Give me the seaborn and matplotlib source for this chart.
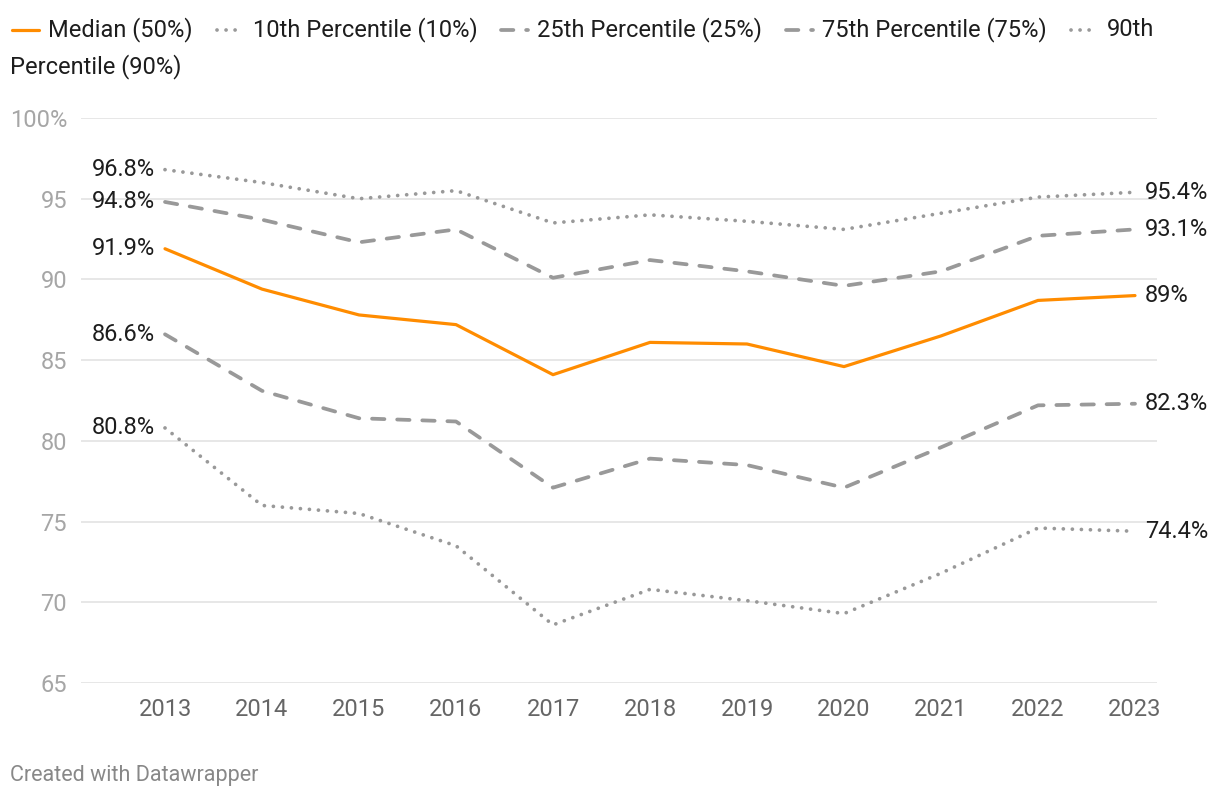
import matplotlib
matplotlib.use("Agg")
import matplotlib.pyplot as plt
from matplotlib.lines import Line2D
import seaborn as sns
import pandas as pd

years = [2013, 2014, 2015, 2016, 2017, 2018, 2019, 2020, 2021, 2022, 2023]
median = [91.9, 89.4, 87.8, 87.2, 84.1, 86.1, 86.0, 84.6, 86.5, 88.7, 89.0]
p10 = [80.8, 76.0, 75.5, 73.5, 68.6, 70.8, 70.1, 69.3, 71.8, 74.6, 74.4]
p25 = [86.6, 83.1, 81.4, 81.2, 77.1, 78.9, 78.5, 77.1, 79.6, 82.2, 82.3]
p75 = [94.8, 93.7, 92.3, 93.1, 90.1, 91.2, 90.5, 89.6, 90.5, 92.7, 93.1]
p90 = [96.8, 96.0, 95.0, 95.5, 93.5, 94.0, 93.6, 93.1, 94.1, 95.1, 95.4]
series_names = ["Median (50%)", "10th Percentile (10%)", "25th Percentile (25%)",
                "75th Percentile (75%)", "90th Percentile (90%)"]
series_values = [median, p10, p25, p75, p90]
start_labels = ["91.9%", "80.8%", "86.6%", "94.8%", "96.8%"]
end_labels = ["89%", "74.4%", "82.3%", "93.1%", "95.4%"]
y_ticks = [65, 70, 75, 80, 85, 90, 95, 100]
y_ticklabels = ["65", "70", "75", "80", "85", "90", "95", "100%"]

ORANGE = "#ff8c00"
GREY = "#999999"
colors = [ORANGE, GREY, GREY, GREY, GREY]
DOT = (0.01, 2.4)
DASH = (3.3, 3.4)
dash_map = {
    "Median (50%)": "",
    "10th Percentile (10%)": DOT,
    "25th Percentile (25%)": DASH,
    "75th Percentile (75%)": DASH,
    "90th Percentile (90%)": DOT,
}

rows = []
for name, vals in zip(series_names, series_values):
    for y, v in zip(years, vals):
        rows.append({"year": y, "value": v, "series": name})
df = pd.DataFrame(rows)

sns.set_theme(style="white")
plt.rcParams["font.family"] = ["Roboto", "DejaVu Sans"]
plt.rcParams["lines.dash_capstyle"] = "round"
plt.rcParams["lines.solid_capstyle"] = "round"

FS = 17
LW = 2.7
W, H = 1220, 800
fig = plt.figure(figsize=(12.2, 8), dpi=100)
ax = fig.add_axes([81 / W, 1 - 683 / H, (1157 - 81) / W, (683 - 118) / H])

sns.lineplot(data=df, x="year", y="value", hue="series", style="series",
             palette=dict(zip(series_names, colors)), dashes=dash_map,
             hue_order=series_names, style_order=series_names,
             linewidth=LW, legend=False, ax=ax)
for ln in ax.get_lines():
    if ln.get_color() == ORANGE:
        ln.set_linewidth(2.3)

x0 = 2013 - (165 - 81) / 97.0
x1 = 2023 + (1157 - 1135) / 97.0
ax.set_xlim(x0, x1)
ax.set_ylim(65, 100)
ax.set_yticks(y_ticks)
ax.set_yticklabels(y_ticklabels)
ax.set_xticks(years)
ax.set_xticklabels([str(y) for y in years])
ax.tick_params(axis="y", length=0, pad=10, labelsize=FS, labelcolor="#a6a6a6")
ax.tick_params(axis="x", length=0, pad=11, labelsize=FS, labelcolor="#666666")
ax.grid(axis="y", color="#e3e3e3", linewidth=1.2)
ax.grid(axis="x", visible=False)
for s in ax.spines.values():
    s.set_visible(False)
ax.set_xlabel("")
ax.set_ylabel("")

# value labels at start and end
for vals, sl, el in zip(series_values, start_labels, end_labels):
    ax.annotate(sl, (years[0], vals[0]), xytext=(-7, 0), textcoords="offset points",
                ha="right", va="center", fontsize=FS, color="#1d1d1d")
    ax.annotate(el, (years[-1], vals[-1]), xytext=(7, 0), textcoords="offset points",
                ha="left", va="center", fontsize=FS, color="#1d1d1d")

# custom legend (wrapping like the reference)
fig.canvas.draw()
renderer = fig.canvas.get_renderer()
legend_specs = [
    ("Median (50%)", ORANGE, "-", 2.3),
    ("10th Percentile (10%)", GREY, (0, DOT), LW),
    ("25th Percentile (25%)", GREY, (0, DASH), LW),
    ("75th Percentile (75%)", GREY, (0, DASH), LW),
    ("90th", GREY, (0, DOT), LW),
]
x = 10
y_line = 30
for label, col, ls, lw in legend_specs:
    ln = Line2D([(x + 2) / W, (x + 29) / W], [1 - y_line / H, 1 - y_line / H],
                transform=fig.transFigure, color=col, linestyle=ls, linewidth=lw)
    fig.add_artist(ln)
    t = fig.text((x + 38) / W, 1 - y_line / H, label, fontsize=FS, color="#1d1d1d",
                 ha="left", va="center")
    bb = t.get_window_extent(renderer=renderer)
    x = bb.x1 + 22
fig.text(10 / W, 1 - 67 / H, "Percentile (90%)", fontsize=FS, color="#1d1d1d",
         ha="left", va="center")

fig.text(10 / W, 1 - 776 / H, "Created with Datawrapper", fontsize=15.5, color="#888888",
         ha="left", va="center")

fig.savefig("out.png", dpi=100, facecolor="white")
